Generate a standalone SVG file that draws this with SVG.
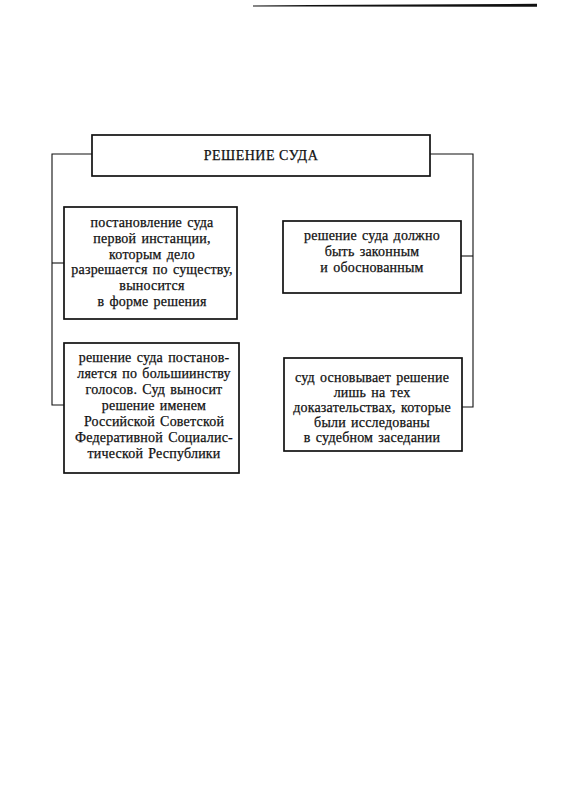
<svg xmlns="http://www.w3.org/2000/svg" width="579" height="805" viewBox="0 0 579 805">
<style>
.box{fill:#fff;stroke:#111;stroke-width:1.7}
.conn{fill:none;stroke:#111;stroke-width:1.1}
text{font-family:"Liberation Serif","DejaVu Serif",serif;fill:#111;stroke:#111;stroke-width:0.25;text-anchor:middle;font-size:14px;letter-spacing:0.2px;word-spacing:1.5px}
.title{font-size:14px;letter-spacing:0.5px;word-spacing:0}
</style>
<rect width="579" height="805" fill="#fff"/>
<path d="M253,5.6 L310,5 L537,3.8 L537,6.8 L310,6.6 L253,6.4 Z" fill="#111"/>
<g id="connectors">
<polyline class="conn" points="92,154 52,154 52,405 64,405"/>
<line class="conn" x1="52" y1="263" x2="64" y2="263"/>
<polyline class="conn" points="430,154 473,154 473,407 462,407"/>
<line class="conn" x1="461" y1="256" x2="473" y2="256"/>
</g>
<g id="title">
<rect class="box" x="92" y="135" width="338" height="41"/>
<text class="title" x="261" y="160">РЕШЕНИЕ СУДА</text>
</g>
<g id="box1">
<rect class="box" x="64" y="207" width="173" height="112"/>
<text x="152" y="227">постановление суда</text>
<text x="152" y="243">первой инстанции,</text>
<text x="152" y="258.5">которым дело</text>
<text x="152" y="274">разрешается по существу,</text>
<text x="152" y="290">выносится</text>
<text x="152" y="305.5">в форме решения</text>
</g>
<g id="box2">
<rect class="box" x="283" y="221" width="178" height="72"/>
<text x="372" y="240">решение суда должно</text>
<text x="372" y="256">быть законным</text>
<text x="372" y="272">и обоснованным</text>
</g>
<g id="box3">
<rect class="box" x="64" y="343" width="175" height="130"/>
<text x="154" y="362">решение суда постанов-</text>
<text x="154" y="378">ляется по большиинству</text>
<text x="154" y="394">голосов. Суд выносит</text>
<text x="154" y="410">решение именем</text>
<text x="154" y="426">Российской Советской</text>
<text x="154" y="442">Федеративной Социалис-</text>
<text x="154" y="458">тической Республики</text>
</g>
<g id="box4">
<rect class="box" x="284" y="358" width="178" height="93"/>
<text x="372" y="382">суд основывает решение</text>
<text x="372" y="397">лишь на тех</text>
<text x="372" y="412">доказательствах, которые</text>
<text x="372" y="427">были исследованы</text>
<text x="372" y="442">в судебном заседании</text>
</g>
</svg>
